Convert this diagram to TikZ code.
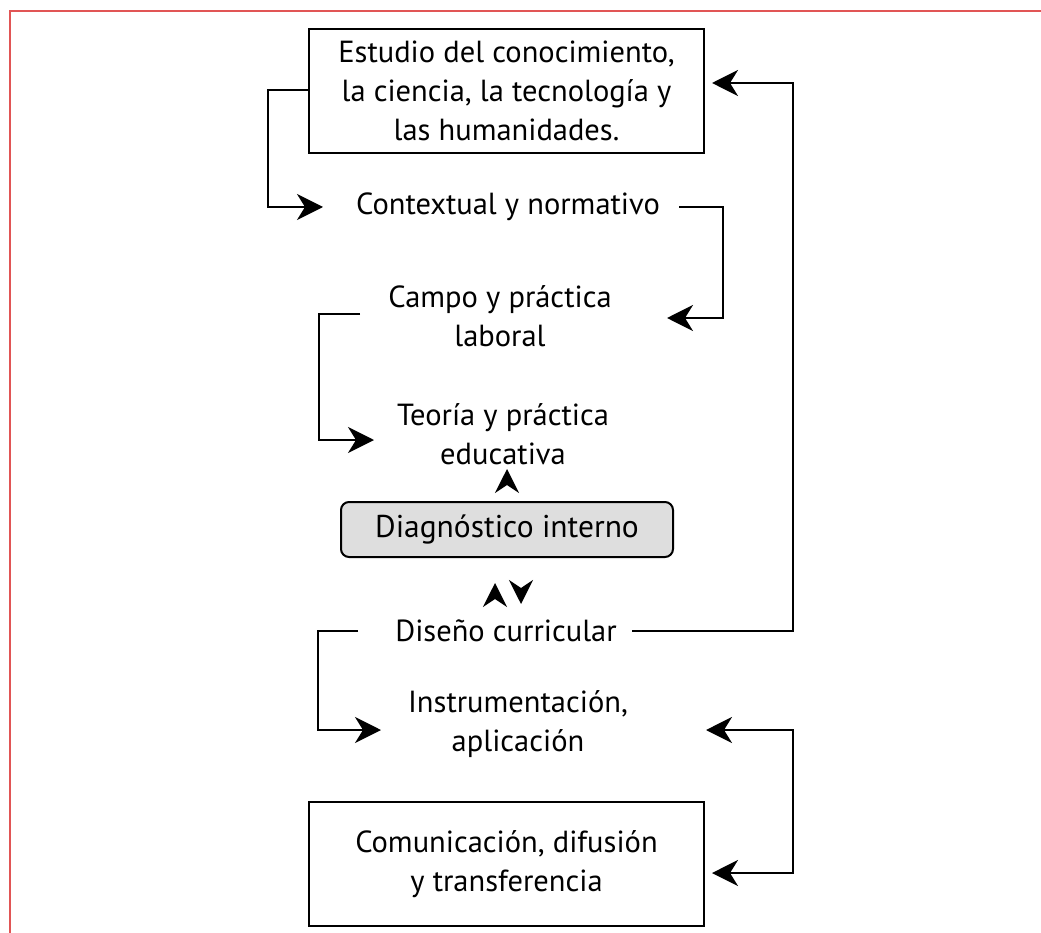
\documentclass[tikz,border=0pt]{standalone}
\usepackage{fontspec}
\setmainfont{PT Sans}
\usetikzlibrary{arrows.meta}
\definecolor{frame}{RGB}{225,85,85}
\definecolor{diagfill}{RGB}{222,222,222}
\begin{document}
\begin{tikzpicture}[x=1pt,y=-1pt,
  every node/.style={font=\fontsize{30.5}{39}\selectfont, align=center, inner sep=0pt},
  conn/.style={line width=2pt},
  arr/.style={conn, -{Stealth[length=26pt,width=26pt,inset=8pt]}},
  biarr/.style={conn, {Stealth[length=26pt,width=26pt,inset=8pt]}-{Stealth[length=26pt,width=26pt,inset=8pt]}},
  head/.style={conn, -{Stealth[length=24pt,width=24pt,inset=8pt]}},
  boxed/.style={draw, line width=2pt, minimum width=395pt, minimum height=124pt},
  diagbox/.style={draw, line width=2pt, fill=diagfill, rounded corners=8pt, minimum width=332pt, minimum height=55pt}]
\useasboundingbox (0,0) rectangle (1041,933);
\draw[frame, line width=2pt] (10,933) -- (10,11) -- (1041,11);

\node[boxed] (est) at (506.5,91) {Estudio del conocimiento,\\la ciencia, la tecnología y\\las humanidades.};
\node (ctx) at (508,207) {Contextual y normativo};
\node (camp) at (500,316) {Campo y práctica\\laboral};
\node (teo) at (503,434) {Teoría y práctica\\educativa};
\node[diagbox, font=\fontsize{31.5}{39}\selectfont] (diag) at (507,529.5) {Diagnóstico interno};
\node (dis) at (506,631) {Diseño curricular};
\node (ins) at (518,724) {Instrumentación,\\aplicación};
\node[boxed] (com) at (506.5,864) {Comunicación, difusión\\y transferencia};

\coordinate (ctxin) at (323,207);
\coordinate (ctxout) at (679,207);
\coordinate (campin) at (667,318);
\coordinate (campout) at (360,314);
\coordinate (teoin) at (374,440);
\coordinate (disL) at (358,631);
\coordinate (disR) at (632,631);
\coordinate (insL) at (381,730);
\coordinate (insR) at (706,730);
\coordinate (estin) at (712,83);
\coordinate (comin) at (712,873);

\draw[arr] (est.west |- 0,90) -- (268,90) |- (ctxin);
\draw[arr] (ctxout) -- (723,207) |- (campin);
\draw[arr] (campout) -- (319,314) |- (teoin);
\draw[arr] (disR) -- (793,631) |- (estin);
\draw[arr] (disL) -- (318,631) |- (insL);
\draw[biarr] (insR) -- (793,730) |- (comin);

% stand-alone arrowheads (path length = head length - inset)
\draw[head] ([yshift=16pt]diag.north) -- ++(0,-16);
\draw[head] ([xshift=-12pt,yshift=-41pt]diag.south) -- ++(0,-16);
\draw[head] ([xshift=14pt,yshift=-30pt]diag.south) -- ++(0,16);
\end{tikzpicture}
\end{document}
